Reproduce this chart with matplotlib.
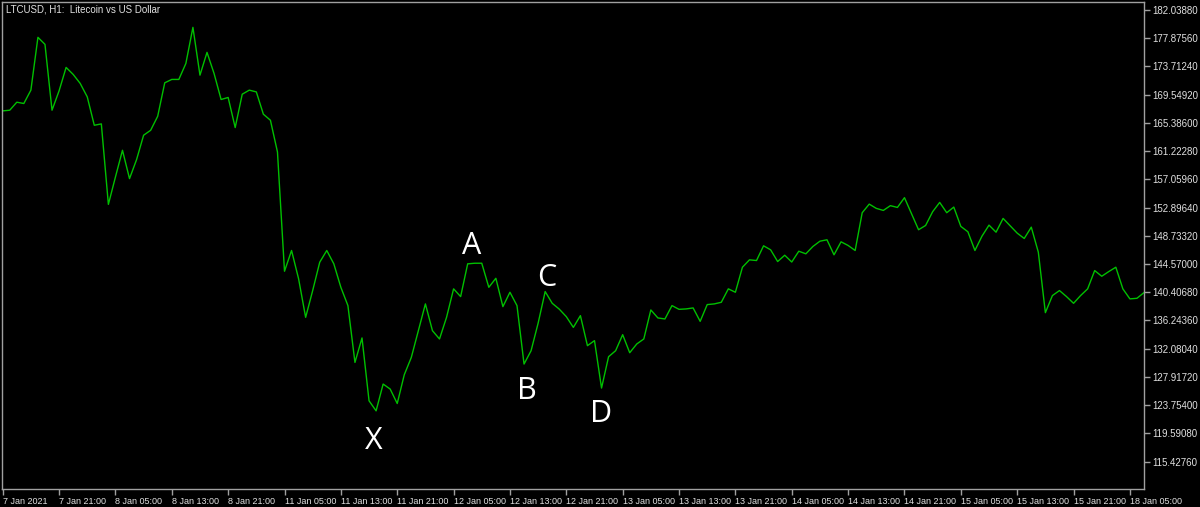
import numpy as np
import matplotlib.pyplot as plt

LINE_COLOR = "#00c000"
FRAME_COLOR = "#a0a0a0"
TEXT_COLOR = "#e0e0e0"

# LTCUSD H1 closes (one value per hourly bar)
close = [
    167.16, 167.26, 168.44, 168.25, 170.22, 178.01, 176.97, 167.26, 170.11, 173.57,
    172.54, 171.21, 169.23, 165.04, 165.24, 153.37, 157.40, 161.35, 157.17, 159.97,
    163.57, 164.30, 166.37, 171.30, 171.80, 171.80, 174.16, 179.48, 172.43, 175.79,
    172.68, 168.84, 169.14, 164.70, 169.62, 170.22, 169.96, 166.67, 165.78, 161.10,
    143.51, 146.57, 142.39, 136.71, 140.66, 144.84, 146.57, 144.60, 141.14, 138.44,
    130.06, 133.67, 124.40, 122.92, 126.87, 126.13, 124.00, 128.24, 130.80, 134.74,
    138.69, 134.74, 133.52, 136.71, 140.91, 139.77, 144.60, 144.69, 144.69, 141.14,
    142.47, 138.29, 140.41, 138.44, 129.82, 131.79, 135.85, 140.51, 138.78, 137.92,
    136.81, 135.23, 136.96, 132.53, 133.27, 126.28, 130.90, 131.79, 134.15, 131.49,
    132.78, 133.52, 137.80, 136.62, 136.47, 138.44, 137.89, 137.95, 138.10, 136.12,
    138.59, 138.69, 138.93, 140.91, 140.41, 144.10, 145.19, 145.09, 147.26, 146.67,
    144.94, 145.87, 144.87, 146.46, 146.08, 147.16, 147.94, 148.15, 145.93, 147.85,
    147.31, 146.57, 152.14, 153.41, 152.78, 152.48, 153.18, 152.92, 154.36, 151.99,
    149.63, 150.26, 152.29, 153.66, 152.14, 152.97, 150.12, 149.33, 146.57, 148.68,
    150.31, 149.27, 151.30, 150.22, 149.13, 148.34, 150.01, 146.32, 137.40, 139.92,
    140.66, 139.77, 138.78, 139.92, 140.91, 143.61, 142.77, 143.46, 144.10, 140.91,
    139.43, 139.52, 140.36,
]

# XABCD pattern pivots (bar index)
pivot_names = ["X", "A", "B", "C", "D"]
pivot_bars = [53, 67, 74, 77, 85]

time_labels = [
    "7 Jan 2021", "7 Jan 21:00", "8 Jan 05:00", "8 Jan 13:00", "8 Jan 21:00",
    "11 Jan 05:00", "11 Jan 13:00", "11 Jan 21:00", "12 Jan 05:00", "12 Jan 13:00",
    "12 Jan 21:00", "13 Jan 05:00", "13 Jan 13:00", "13 Jan 21:00", "14 Jan 05:00",
    "14 Jan 13:00", "14 Jan 21:00", "15 Jan 05:00", "15 Jan 13:00", "15 Jan 21:00",
    "18 Jan 05:00",
]
price_ticks = [182.03880, 177.87560, 173.71240, 169.54920, 165.38600, 161.22280,
               157.05960, 152.89640, 148.73320, 144.57000, 140.40680, 136.24360,
               132.08040, 127.91720, 123.75400, 119.59080, 115.42760]

fig = plt.figure(figsize=(12, 5.07), dpi=100, facecolor="black")
ax = fig.add_axes([2 / 1200, 18 / 507, 1142 / 1200, 487 / 507], facecolor="black")

bars = np.arange(len(close))
ax.plot(bars, close, color=LINE_COLOR, lw=1.0)

ax.set_xlim(-0.1, len(close) - 1)
ax.set_ylim(111.39, 183.22)

for s in ax.spines.values():
    s.set_color(FRAME_COLOR)
    s.set_linewidth(1.0)

ax.yaxis.tick_right()
ax.set_yticks(price_ticks)
ax.set_yticklabels([f"{p:.5f}" for p in price_ticks])
ax.set_xticks(np.arange(len(time_labels)) * 8)
ax.set_xticklabels(time_labels, ha="left")
ax.tick_params(axis="both", colors=FRAME_COLOR, length=4, width=1,
               labelcolor=TEXT_COLOR, labelsize=7)
ax.tick_params(axis="x", pad=2, labelsize=6.5)
ax.tick_params(axis="y", pad=2)
for lab in ax.get_xticklabels() + ax.get_yticklabels():
    lab.set_family("Liberation Sans")

fig.text(6 / 1200, 1 - 10 / 507, "LTCUSD, H1:  Litecoin vs US Dollar",
         color=TEXT_COLOR, fontsize=7, family="Liberation Sans", va="center")

offsets = {"X": (-1.7, -27.3), "A": (-1.9, 6.6), "B": (1.9, -25.1),
           "C": (1.1, 3.7), "D": (0, -24.4)}
for name, b in zip(pivot_names, pivot_bars):
    ax.annotate(name, (b, close[b]), textcoords="offset points",
                xytext=offsets[name], ha="center", va="baseline",
                color="white", fontsize=22, family="Open Sans")

fig.savefig("out.png", dpi=100, facecolor="black")
